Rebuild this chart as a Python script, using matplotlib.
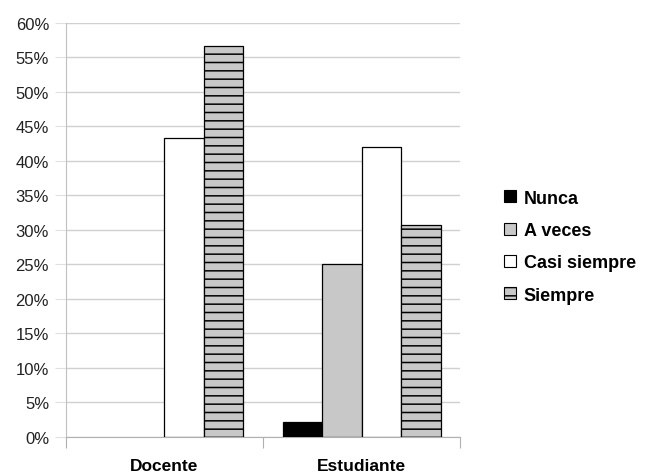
import matplotlib
matplotlib.use("Agg")
import matplotlib.pyplot as plt
from matplotlib.patches import Patch
from matplotlib.ticker import FuncFormatter, MultipleLocator
import numpy as np

plt.rcParams['font.family'] = ['Liberation Sans', 'DejaVu Sans']
plt.rcParams['hatch.linewidth'] = 1.1

# porcentajes por grupo
grupos = ['Docente', 'Estudiante']
respuestas = ['Nunca', 'A veces', 'Casi siempre', 'Siempre']
nunca = [0.0, 2.2]
a_veces = [0.0, 25.0]
casi_siempre = [43.3, 42.0]
siempre = [56.7, 30.7]

series = [nunca, a_veces, casi_siempre, siempre]
colores = ['#000000', '#c8c8c8', '#ffffff', '#c8c8c8']
tramas = [None, None, None, '--']

fig = plt.figure(figsize=(6.71, 4.77), dpi=100)
ax = fig.add_axes([0.098, 0.082, 0.588, 0.868])

x = np.arange(len(grupos))
ancho = 0.2
for i, (vals, col, tr) in enumerate(zip(series, colores, tramas)):
    pos = x - 0.3 + i * ancho
    for p, v in zip(pos, vals):
        if v <= 0:
            continue
        ax.bar(p, v, width=ancho, color=col, edgecolor='black', linewidth=0.9,
               hatch=tr, zorder=3)

ax.set_xlim(-0.5, 1.5)
ax.set_ylim(0, 60)
ax.yaxis.set_major_locator(MultipleLocator(5))
ax.yaxis.set_major_formatter(FuncFormatter(lambda v, _: f'{v:.0f}%'))
ax.yaxis.grid(True, color='#d0d0d0', linewidth=1.0, zorder=0)

ax.set_xticks([-0.5, 0.5, 1.5])
ax.set_xticklabels([])
ax.set_xticks(x, minor=True)
ax.set_xticklabels(grupos, minor=True, fontsize=12.5, fontweight='bold')
ax.tick_params(axis='x', which='minor', length=0, pad=15.5)
ax.tick_params(axis='x', which='major', length=8, color='#b0b0b0')
ax.tick_params(axis='y', length=8, color='#e0e0e0', labelsize=12, pad=4,
               labelcolor='#222222')

for lado in ['top', 'right']:
    ax.spines[lado].set_visible(False)
ax.spines['left'].set_color('#c0c0c0')
ax.spines['bottom'].set_color('#b0b0b0')

handles = [Patch(facecolor=c, edgecolor='black', hatch=t, linewidth=0.8)
           for c, t in zip(colores, tramas)]
fig.legend(handles, respuestas, loc='center left', bbox_to_anchor=(0.727, 0.481),
           frameon=False, handlelength=0.65, handleheight=0.65, handletextpad=0.45,
           labelspacing=0.85, prop={'weight': 'bold', 'size': 13})

fig.savefig('out.png', dpi=100)
